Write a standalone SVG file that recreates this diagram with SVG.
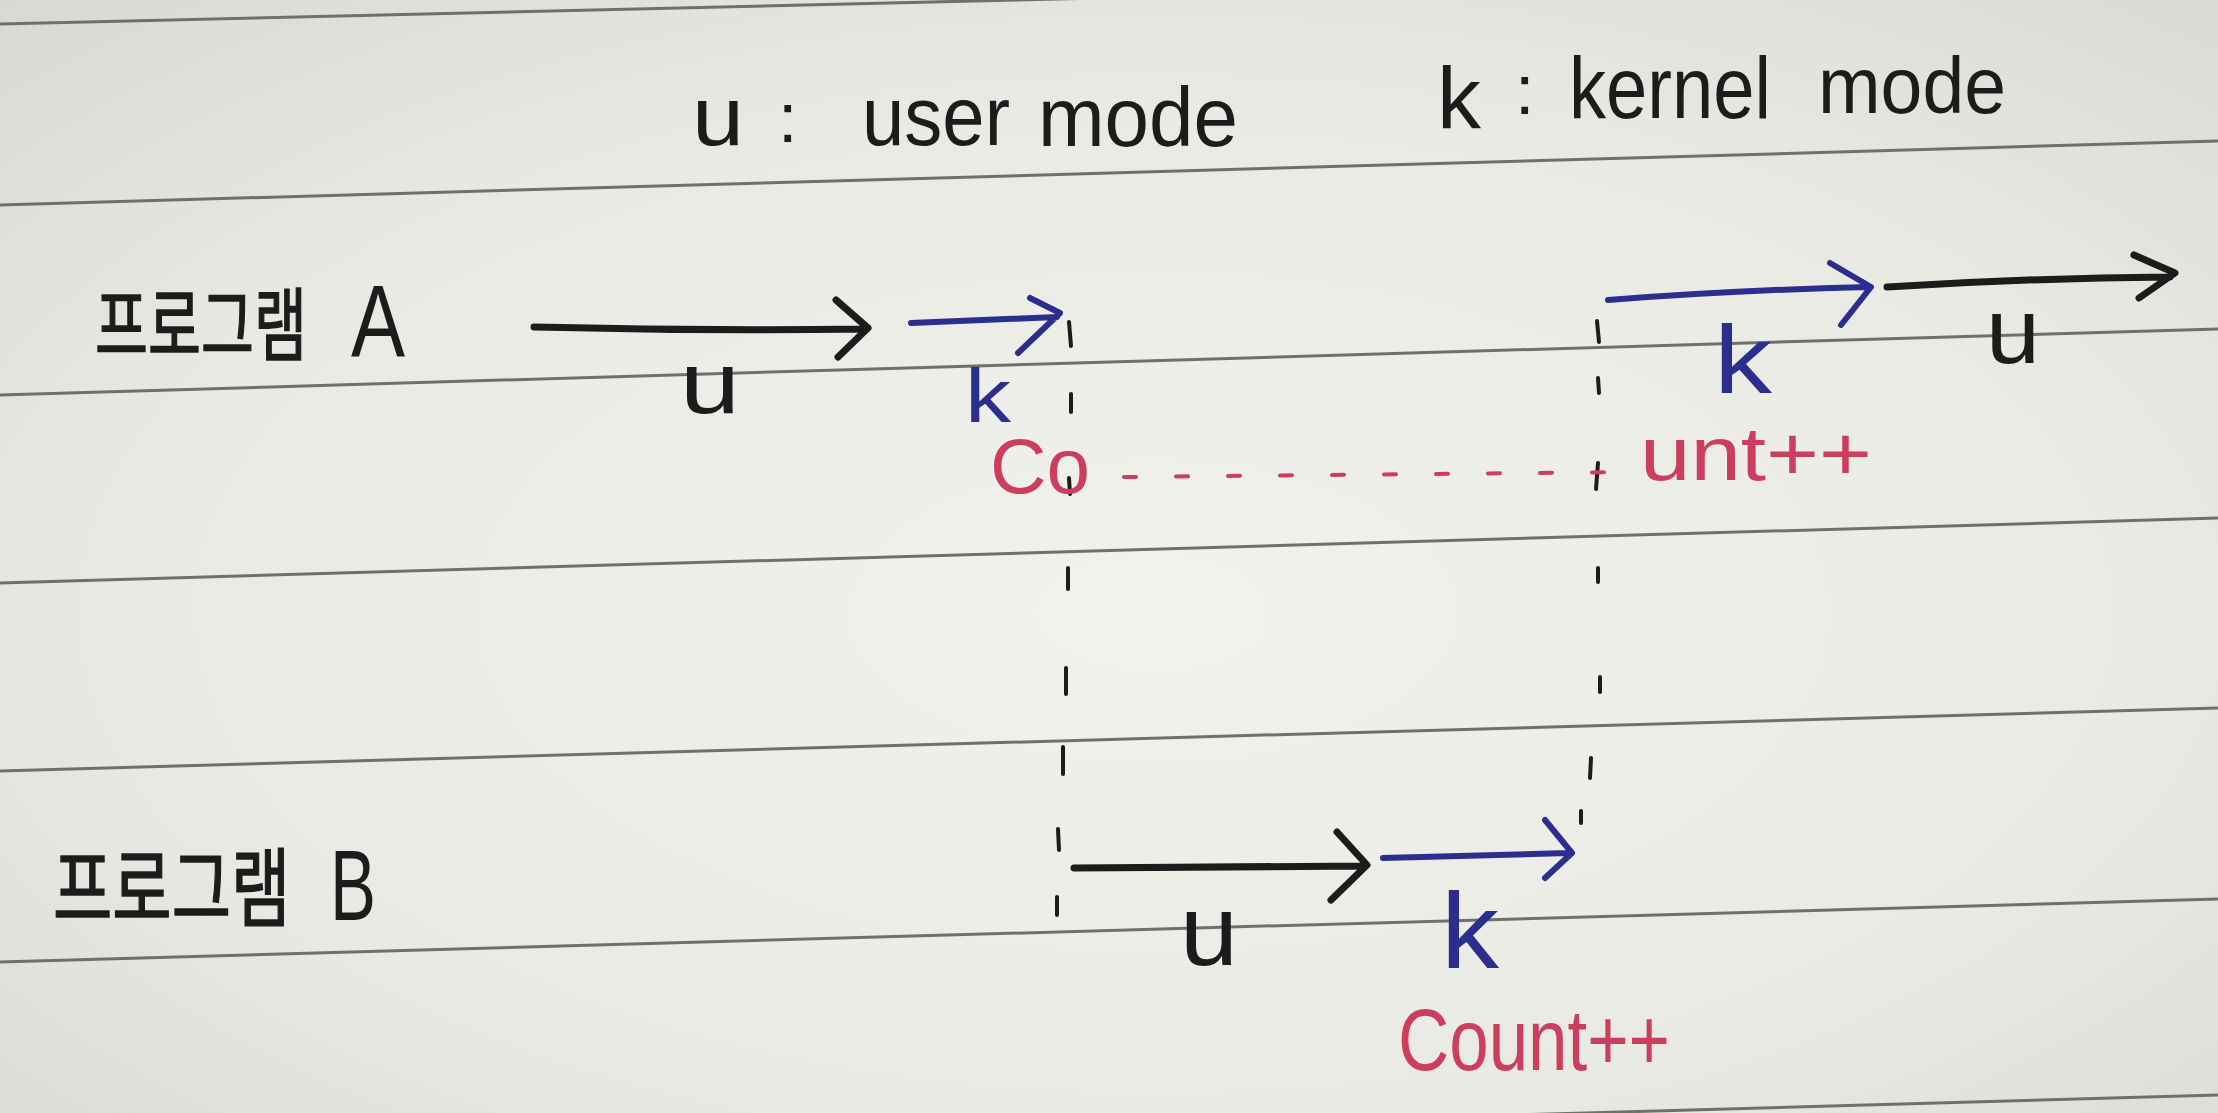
<svg xmlns="http://www.w3.org/2000/svg" width="2218" height="1113" viewBox="0 0 2218 1113">
  <defs>
    <radialGradient id="paper" cx="0.52" cy="0.55" r="0.75">
      <stop offset="0" stop-color="#f1f1ed"/>
      <stop offset="0.6" stop-color="#eaeae5"/>
      <stop offset="1" stop-color="#d9d9d4"/>
    </radialGradient>
    <style>
      .rule { stroke: #6f6f6d; stroke-width: 3; fill: none; }
      .hand { font-family: "Liberation Sans", "Noto Sans", sans-serif; }
      .kr { font-family: "Noto Sans CJK KR", "Noto Sans", sans-serif; fill: #1c1c1c; stroke: #1c1c1c; stroke-width: 1.5; }
      .ink { fill: #1c1c1c; }
      .blue { fill: #2b2e8c; }
      .red { fill: #cc3f5c; }
      .arr { fill: none; stroke-width: 7; stroke-linecap: round; stroke-linejoin: round; }
      .k { stroke: #1c1c1c; }
      .b { stroke: #2b2e8c; stroke-width: 6; }
      .dash { stroke: #1c1c1c; stroke-width: 4; stroke-linecap: round; fill: none; }
      .dot { stroke: #cc3f5c; stroke-width: 4; stroke-linecap: round; stroke-dasharray: 12 40; fill: none; }
    </style>
  </defs>

  <rect x="0" y="0" width="2218" height="1113" fill="url(#paper)"/>

  <g id="ruled-lines">
    <line class="rule" x1="0" y1="24" x2="1100" y2="-2"/>
    <line class="rule" x1="0" y1="205" x2="2218" y2="141"/>
    <line class="rule" x1="0" y1="395" x2="2218" y2="329"/>
    <line class="rule" x1="0" y1="583" x2="2218" y2="518"/>
    <line class="rule" x1="0" y1="771" x2="2218" y2="708"/>
    <line class="rule" x1="0" y1="962" x2="2218" y2="899"/>
    <line class="rule" x1="0" y1="1158" x2="2218" y2="1095"/>
  </g>

  <g id="legend-user" class="hand ink">
    <text x="692" y="145" font-size="84" textLength="52" lengthAdjust="spacingAndGlyphs">u</text>
    <text x="778" y="142" font-size="70">:</text>
    <text x="862" y="145" font-size="84" textLength="148" lengthAdjust="spacingAndGlyphs">user</text>
    <text x="1038" y="146" font-size="84" textLength="200" lengthAdjust="spacingAndGlyphs">mode</text>
  </g>

  <g id="legend-kernel" class="hand ink">
    <text x="1437" y="128" font-size="88" textLength="44" lengthAdjust="spacingAndGlyphs">k</text>
    <text x="1515" y="114" font-size="70">:</text>
    <text x="1569" y="118" font-size="88" textLength="202" lengthAdjust="spacingAndGlyphs">kernel</text>
    <text x="1818" y="113" font-size="80" textLength="188" lengthAdjust="spacingAndGlyphs">mode</text>
  </g>

  <g id="program-a">
    <text class="kr" transform="translate(95,354) scale(0.72,1)" font-size="80">프로그램</text>
    <text class="hand ink" x="351" y="357" font-size="102" textLength="54" lengthAdjust="spacingAndGlyphs">A</text>
  </g>

  <g id="program-b">
    <text class="kr" transform="translate(53,920) scale(0.75,1)" font-size="86">프로그램</text>
    <text class="hand ink" x="330" y="920" font-size="100" textLength="46" lengthAdjust="spacingAndGlyphs">B</text>
  </g>

  <g id="connectors">
    <path class="arr k" d="M534,327 Q700,331 866,329 M836,300 L868,328 L838,357"/>
    <path class="arr b" d="M911,323 L1057,317 M1030,298 L1060,313 L1018,353"/>
    <path class="arr b" d="M1608,300 Q1740,290 1868,287 M1830,263 L1871,287 L1841,325"/>
    <path class="arr k" d="M1887,287 Q2030,278 2170,277 M2134,255 L2175,273 L2139,298"/>
    <path class="arr k" d="M1074,868 L1362,866 M1337,832 L1367,865 L1331,900"/>
    <path class="arr b" d="M1383,858 L1568,853 M1545,820 L1572,853 L1545,878"/>
    <g id="boundary-1">
      <line class="dash" x1="1069" y1="322" x2="1071" y2="346"/>
      <line class="dash" x1="1071" y1="394" x2="1071" y2="412"/>
      <line class="dash" x1="1069" y1="478" x2="1070" y2="494"/>
      <line class="dash" x1="1068" y1="568" x2="1068" y2="589"/>
      <line class="dash" x1="1066" y1="668" x2="1066" y2="694"/>
      <line class="dash" x1="1063" y1="747" x2="1063" y2="774"/>
      <line class="dash" x1="1058" y1="829" x2="1059" y2="850"/>
      <line class="dash" x1="1057" y1="897" x2="1057" y2="915"/>
    </g>
    <g id="boundary-2">
      <line class="dash" x1="1597" y1="321" x2="1599" y2="342"/>
      <line class="dash" x1="1598" y1="378" x2="1599" y2="393"/>
      <line class="dash" x1="1598" y1="463" x2="1596" y2="489"/>
      <line class="dash" x1="1598" y1="568" x2="1598" y2="582"/>
      <line class="dash" x1="1600" y1="677" x2="1600" y2="692"/>
      <line class="dash" x1="1591" y1="758" x2="1590" y2="778"/>
      <line class="dash" x1="1581" y1="811" x2="1581" y2="823"/>
    </g>
    <line class="dot" x1="1124" y1="477" x2="1630" y2="472"/>
  </g>

  <g id="label-a-u1"><text class="hand ink" x="680" y="413" font-size="88" textLength="60" lengthAdjust="spacingAndGlyphs">u</text></g>
  <g id="label-a-k1"><text class="hand blue" x="965" y="422" font-size="76" textLength="46" lengthAdjust="spacingAndGlyphs">k</text></g>
  <g id="label-a-k2"><text class="hand blue" x="1714" y="393" font-size="96" textLength="58" lengthAdjust="spacingAndGlyphs">k</text></g>
  <g id="label-a-u2"><text class="hand ink" x="1986" y="363" font-size="92" textLength="54" lengthAdjust="spacingAndGlyphs">u</text></g>
  <g id="label-b-u"><text class="hand ink" x="1180" y="965" font-size="100" textLength="58" lengthAdjust="spacingAndGlyphs">u</text></g>
  <g id="label-b-k"><text class="hand blue" x="1441" y="968" font-size="108" textLength="58" lengthAdjust="spacingAndGlyphs">k</text></g>

  <g id="count-a">
    <text class="hand red" x="990" y="493" font-size="78" textLength="100" lengthAdjust="spacingAndGlyphs">Co</text>
    <text class="hand red" x="1640" y="480" font-size="76" textLength="232" lengthAdjust="spacingAndGlyphs">unt++</text>
  </g>
  <g id="count-b">
    <text class="hand red" x="1398" y="1070" font-size="88" textLength="272" lengthAdjust="spacingAndGlyphs">Count++</text>
  </g>
</svg>
